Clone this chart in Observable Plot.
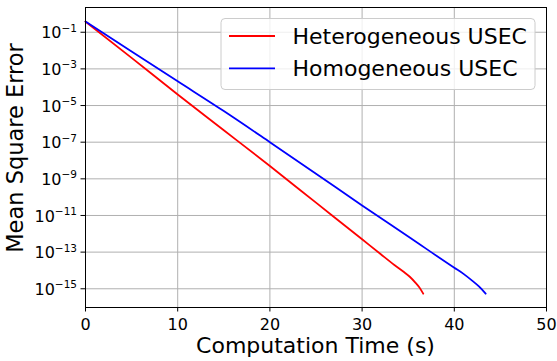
<!DOCTYPE html>
<html><head><meta charset="utf-8">
<script src="https://cdn.jsdelivr.net/npm/d3@7"></script>
<script src="https://cdn.jsdelivr.net/npm/@observablehq/plot@0.6"></script>
<style>body{margin:0;background:#fff} svg{font-family:"DejaVu Sans",sans-serif}</style>
</head><body><div id="chart"></div>
<script>
const seriesNames = ["Heterogeneous USEC", "Homogeneous USEC"];
const seriesColors = ["#ff0000", "#0000ff"];

const heteroTime = [0, 5, 10, 15, 20, 25, 30, 32, 33.5, 34.5, 35.2, 35.8, 36.2, 36.63];
const heteroMSE  = [3.8e-1, 4.0e-3, 4.0e-5, 4.5e-7, 5.0e-9, 5.0e-11, 5.0e-13, 7.9e-14, 2.0e-14, 8.5e-15, 4.4e-15, 2.1e-15, 1.2e-15, 5.4e-16];

const homoTime = [0, 5, 10, 15, 20, 25, 30, 35, 40, 41, 42, 42.7, 43.4];
const homoMSE  = [3.8e-1, 8.9e-3, 2.1e-4, 5.0e-6, 1.0e-7, 1.9e-9, 3.5e-11, 7.1e-13, 1.4e-14, 6.5e-15, 2.6e-15, 1.3e-15, 5.4e-16];

const xTicks = [0, 10, 20, 30, 40, 50];
const yTickExponents = [-1, -3, -5, -7, -9, -11, -13, -15];
const yTicks = yTickExponents.map(e => Math.pow(10, e));
const xLabel = "Computation Time (s)";
const yLabel = "Mean Square Error";

const data = [
  ...heteroTime.map((t, i) => ({t, mse: heteroMSE[i], series: seriesNames[0]})),
  ...homoTime.map((t, i) => ({t, mse: homoMSE[i], series: seriesNames[1]}))
];

const W = 557, H = 361, ML = 85, MR = 11, MT = 7, MB = 54;

const plot = Plot.plot({
  width: W, height: H,
  marginLeft: ML, marginRight: MR, marginTop: MT, marginBottom: MB,
  style: {fontFamily: "DejaVu Sans, sans-serif", fontSize: "16px", background: "#fff", color: "#000"},
  x: {domain: [0, 50]},
  y: {type: "log", domain: [9.5e-17, 2.24]},
  color: {domain: seriesNames, range: seriesColors},
  marks: [
    Plot.gridX(xTicks, {stroke: "#b0b0b0", strokeOpacity: 1, strokeWidth: 1}),
    Plot.gridY(yTicks, {stroke: "#b0b0b0", strokeOpacity: 1, strokeWidth: 1}),
    Plot.axisX(xTicks, {tickSize: 4.5, tickPadding: 7, fontSize: 16, label: null, tickFormat: d => String(d), stroke: "#000"}),
    Plot.axisY(yTicks, {tickSize: 4.5, tickFormat: () => "", label: null, stroke: "#000"}),
    Plot.line(data, {x: "t", y: "mse", z: "series", stroke: "series", strokeWidth: 1.8, curve: "monotone-x"}),
    Plot.frame({stroke: "#000", strokeWidth: 1})
  ]
});

const svg = d3.select(plot);
const ys = plot.scale("y");

// y tick labels with superscripts
yTickExponents.forEach((e, i) => {
  const y = ys.apply(yTicks[i]);
  const t = svg.append("text")
    .attr("x", ML - 8).attr("y", y + 6.6)
    .attr("text-anchor", "end").attr("font-size", 16).attr("fill", "#000");
  t.append("tspan").text("10");
  t.append("tspan").attr("dy", -6.6).attr("font-size", 10.5).text("\u2212" + Math.abs(e));
});

// axis labels
svg.append("text")
  .attr("x", (ML + W - MR) / 2).attr("y", 353)
  .attr("text-anchor", "middle").attr("font-size", 22).attr("fill", "#000")
  .text(xLabel);
svg.append("text")
  .attr("transform", `translate(23,148) rotate(-90)`)
  .attr("text-anchor", "middle").attr("font-size", 22.5).attr("fill", "#000")
  .text(yLabel);

// legend
const lg = svg.append("g");
lg.append("rect").attr("x", 221).attr("y", 18.5).attr("width", 314).attr("height", 71)
  .attr("rx", 4).attr("fill", "#fff").attr("fill-opacity", 0.8)
  .attr("stroke", "#cccccc").attr("stroke-width", 1);
seriesNames.forEach((name, i) => {
  const cy = 36 + i * 32.3;
  lg.append("line").attr("x1", 229).attr("x2", 275).attr("y1", cy).attr("y2", cy)
    .attr("stroke", seriesColors[i]).attr("stroke-width", 1.8);
  lg.append("text").attr("x", 292.5).attr("y", cy + 8).attr("text-anchor", "start")
    .attr("font-size", 22).attr("fill", "#000").text(name);
});

document.getElementById("chart").appendChild(plot);
</script>
</body></html>
